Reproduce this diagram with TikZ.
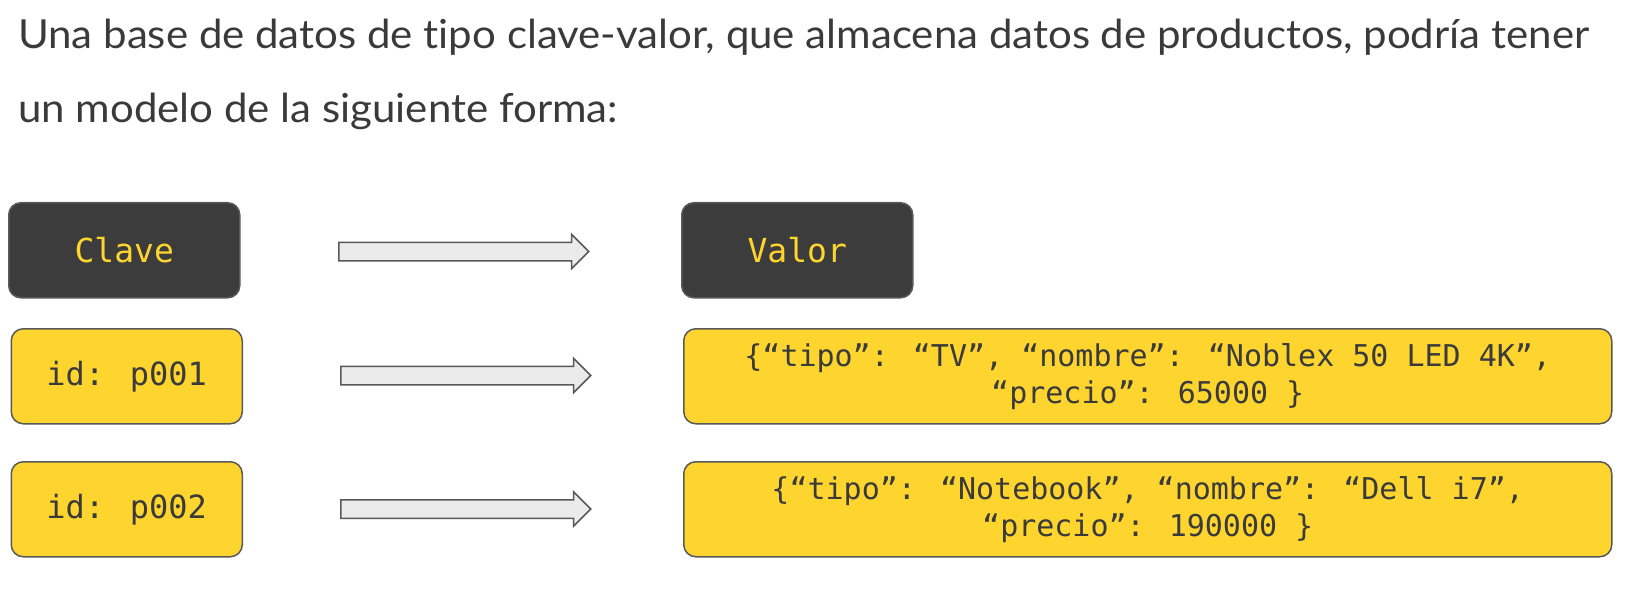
\documentclass[tikz,border=0pt]{standalone}
\usepackage{fontspec}
\setmainfont{Lato}[FakeStretch=1.05, Ligatures=NoCommon]
\newfontfamily\codefont{DejaVu Sans Mono}
\usetikzlibrary{shapes.arrows}
\definecolor{darkbox}{HTML}{3C3C3C}
\definecolor{ybox}{HTML}{FED52F}
\definecolor{edgec}{HTML}{595959}
\definecolor{arrowfill}{HTML}{EBEBEB}
\definecolor{txt}{HTML}{3A3A3A}
\begin{document}
\begin{tikzpicture}[x=1pt,y=-1pt,
  box/.style={draw=edgec, line width=1.5pt, rounded corners=12pt, inner sep=0pt,
    anchor=north west, align=center},
  headbox/.style={box, fill=darkbox, text=ybox, minimum width=231pt, minimum height=95pt,
    font=\codefont\fontsize{33}{40}\selectfont},
  keybox/.style={box, fill=ybox, text=txt, minimum width=231pt, minimum height=95pt,
    font=\codefont\fontsize{32}{40}\selectfont},
  valbox/.style={box, fill=ybox, text=txt, minimum width=928pt, minimum height=95pt,
    font=\codefont\fontsize{30}{37}\selectfont},
  fatarrow/.style={single arrow, draw=edgec, fill=arrowfill, line width=1.5pt,
    single arrow head extend=8pt, inner xsep=0pt, inner ysep=8.5pt,
    minimum height=250pt, minimum width=33pt, anchor=west},
  header/.style={anchor=base west, inner sep=0pt, text=txt, font=\fontsize{40}{48}\selectfont}
]
\useasboundingbox (0,0) rectangle (1643,604);
\node[header] (h1) at (18,49) {Una base de datos de tipo clave-valor, que almacena datos de productos, podría tener};
\node[header] (h2) at (18,123) {un modelo de la siguiente forma:};

\node[headbox] (clave) at (8,202) {Clave};
\node[headbox] (valor) at (681,202) {Valor};
\node[keybox] (k1) at (10.5,328) {id: p001};
\node[valbox] (v1) at (683,328) {\{“tipo”: “TV”, “nombre”: “Noblex 50 LED 4K”,\\“precio”: 65000 \}};
\node[keybox] (k2) at (10.5,461) {id: p002};
\node[valbox] (v2) at (683,461) {\{“tipo”: “Notebook”, “nombre”: “Dell i7”,\\“precio”: 190000 \}};

\node[fatarrow] (a0) at (338,251.5) {};
\node[fatarrow] (a1) at (340,375.5) {};
\node[fatarrow] (a2) at (340,509) {};
\end{tikzpicture}
\end{document}
